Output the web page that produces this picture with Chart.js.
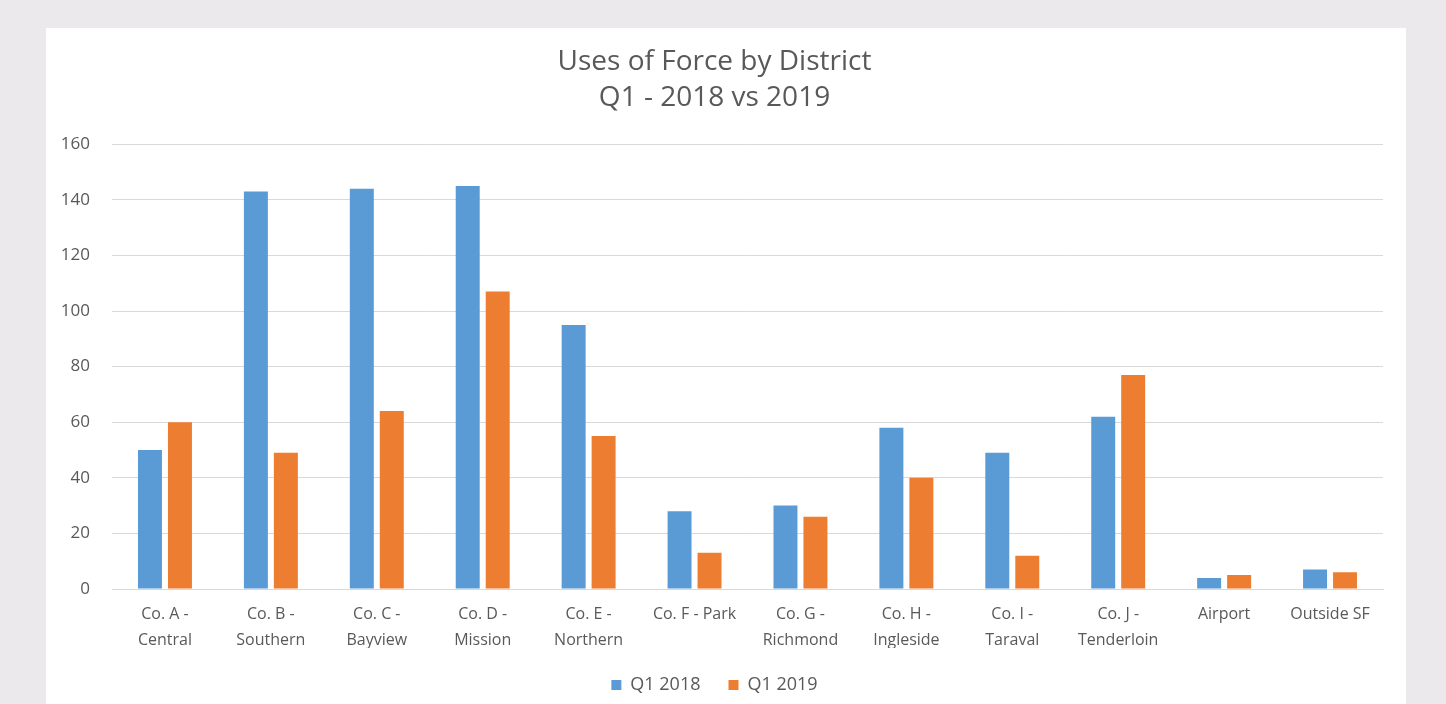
<!DOCTYPE html>
<html>
<head>
<meta charset="utf-8">
<script src="https://cdn.jsdelivr.net/npm/chart.js@4/dist/chart.umd.min.js"></script>
<style>
  html, body { margin: 0; padding: 0; background: #ebe9ec; }
  #panel { position: absolute; left: 46px; top: 28px; width: 1360px; height: 676px; background: #fff; }
</style>
</head>
<body>
<div id="panel"><canvas id="chart" width="1360" height="676"></canvas></div>
<script>
const districts = [
  ["Co. A -", "Central"], ["Co. B -", "Southern"], ["Co. C -", "Bayview"],
  ["Co. D -", "Mission"], ["Co. E -", "Northern"], "Co. F - Park",
  ["Co. G -", "Richmond"], ["Co. H -", "Ingleside"], ["Co. I -", "Taraval"],
  ["Co. J -", "Tenderloin"], "Airport", "Outside SF"
];
const q1_2018 = [50, 143, 144, 145, 95, 28, 30, 58, 49, 62, 4, 7];
const q1_2019 = [60, 49, 64, 107, 55, 13, 26, 40, 12, 77, 5, 6];
const yTicks = [0, 20, 40, 60, 80, 100, 120, 140, 160];

const textColor = "#595959";
const font = "'Open Sans', 'DejaVu Sans', sans-serif";

new Chart(document.getElementById("chart").getContext("2d"), {
  type: "bar",
  data: {
    labels: districts,
    datasets: [
      { label: "Q1 2018", data: q1_2018, backgroundColor: "#5b9bd5", categoryPercentage: 0.566, barPercentage: 0.8 },
      { label: "Q1 2019", data: q1_2019, backgroundColor: "#ed7d31", categoryPercentage: 0.566, barPercentage: 0.8 }
    ]
  },
  options: {
    responsive: false,
    animation: false,
    layout: { padding: { left: 0, right: 23, top: 0, bottom: 0 } },
    plugins: {
      title: {
        display: true,
        text: ["Uses of Force by District", "Q1 - 2018 vs 2019"],
        color: textColor,
        font: { family: font, size: 28, weight: "normal", lineHeight: 1.29 },
        padding: { top: 16, bottom: 28 }
      },
      legend: {
        position: "bottom",
        labels: {
          color: textColor,
          font: { family: font, size: 18 },
          boxWidth: 10,
          boxHeight: 10,
          padding: 28
        }
      },
      tooltip: { enabled: false }
    },
    scales: {
      x: {
        grid: { display: false, drawTicks: false },
        border: { display: true, color: "#d9d9d9" },
        ticks: {
          color: textColor,
          font: { family: font, size: 16, lineHeight: 1.65 },
          padding: 12,
          autoSkip: false,
          maxRotation: 0
        },
        afterFit: (axis) => { axis.height = 59; }
      },
      y: {
        min: 0,
        max: 160,
        afterBuildTicks: (axis) => { axis.ticks = yTicks.map(v => ({ value: v })); },
        grid: { color: "#d9d9d9", drawTicks: false },
        border: { display: false },
        ticks: {
          color: textColor,
          font: { family: font, size: 17 },
          padding: 22
        },
        afterFit: (axis) => { axis.width = 66; }
      }
    }
  }
});
</script>
</body>
</html>
